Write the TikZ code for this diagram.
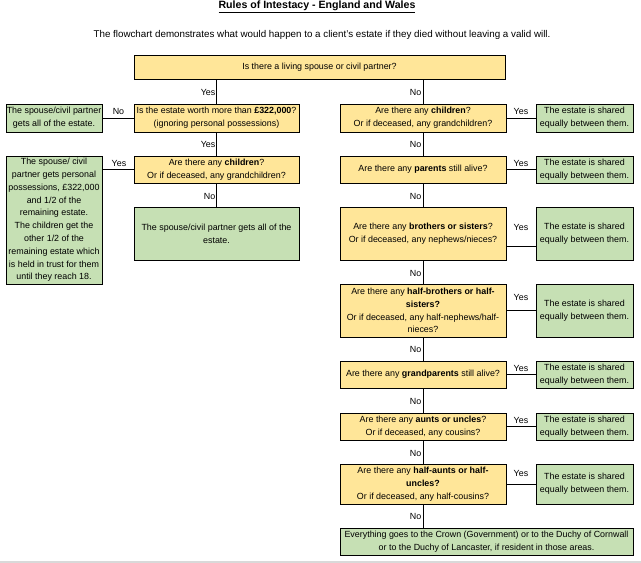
\documentclass[tikz,border=0pt]{standalone}
\usepackage{fontspec}
\setmainfont{Liberation Sans}
\definecolor{yel}{HTML}{FFE699}
\definecolor{grn}{HTML}{C6E0B4}
\definecolor{rulegray}{HTML}{D9D9D9}
\begin{document}
\begin{tikzpicture}[x=1pt,y=-1pt,
  every node/.style={font=\fontsize{8.9}{12.8}\selectfont},
  box/.style={draw=black, line width=0.8pt, inner sep=1pt, align=center},
  ybox/.style={box, fill=yel},
  gbox/.style={box, fill=grn},
  lbl/.style={inner sep=0.5pt},
  conn/.style={draw=black, line width=0.8pt}]
\useasboundingbox (0,0) rectangle (641,563);
\draw[rulegray, line width=1.2pt] (0,562) -- (641,562);

\node (title) at (317,7) {\fontsize{10.6}{12}\selectfont\bfseries\underline{Rules of Intestacy - England and Wales}};
\node (sub) at (322,35) {\fontsize{9.8}{12}\selectfont The flowchart demonstrates what would happen to a client's estate if they died without leaving a valid will.};

% left side
\node[ybox, minimum width=371pt, minimum height=24pt] (q0) at (319.5,67) {Is there a living spouse or civil partner?};
\node[ybox, minimum width=165pt, minimum height=28pt, inner sep=0pt] (estate) at (216.5,118) {Is the estate worth more than \textbf{£322,000}?\\(ignoring personal possessions)};
\node[gbox, minimum width=96pt, minimum height=28pt, inner sep=0pt] (spall1) at (54,118) {The spouse/civil partner\\gets all of the estate.};
\node[ybox, minimum width=165pt, minimum height=27pt] (child1) at (216.5,169.5) {Are there any \textbf{children}?\\Or if deceased, any grandchildren?};
\node[gbox, minimum width=96pt, minimum height=128pt, inner sep=0pt] (split) at (54,220) {The spouse/ civil\\partner gets personal\\possessions, £322,000\\and 1/2 of the\\remaining estate.\\The children get the\\other 1/2 of the\\remaining estate which\\is held in trust for them\\until they reach 18.};
\node[gbox, minimum width=165pt, minimum height=53pt] (spall2) at (216.5,233.5) {The spouse/civil partner gets all of the\\estate.};

% right column
\node[ybox, minimum width=166pt, minimum height=28pt] (rchild) at (423,118) {Are there any \textbf{children}?\\Or if deceased, any grandchildren?};
\node[gbox, minimum width=97pt, minimum height=28pt, inner sep=0pt] (g1) at (584.5,118) {The estate is shared\\equally between them.};
\node[ybox, minimum width=166pt, minimum height=27pt] (parents) at (423,169.5) {Are there any \textbf{parents} still alive?};
\node[gbox, minimum width=97pt, minimum height=27pt, inner sep=0pt] (g2) at (584.5,169.5) {The estate is shared\\equally between them.};
\node[ybox, minimum width=166pt, minimum height=53pt] (bros) at (423,233.5) {Are there any \textbf{brothers or sisters}?\\Or if deceased, any nephews/nieces?};
\node[gbox, minimum width=97pt, minimum height=53pt, inner sep=0pt] (g3) at (584.5,233.5) {The estate is shared\\equally between them.};
\node[ybox, minimum width=166pt, minimum height=53pt, inner sep=0pt] (halfbros) at (423,310.5) {Are there any \textbf{half-brothers or half-}\\\textbf{sisters?}\\Or if deceased, any half-nephews/half-\\nieces?};
\node[gbox, minimum width=97pt, minimum height=53pt, inner sep=0pt] (g4) at (584.5,310.5) {The estate is shared\\equally between them.};
\node[ybox, minimum width=166pt, minimum height=27pt] (gparents) at (423,374.5) {Are there any \textbf{grandparents} still alive?};
\node[gbox, minimum width=97pt, minimum height=27pt, inner sep=0pt] (g5) at (584.5,374.5) {The estate is shared\\equally between them.};
\node[ybox, minimum width=166pt, minimum height=27pt] (aunts) at (423,426.5) {Are there any \textbf{aunts or uncles}?\\Or if deceased, any cousins?};
\node[gbox, minimum width=97pt, minimum height=27pt, inner sep=0pt] (g6) at (584.5,426.5) {The estate is shared\\equally between them.};
\node[ybox, minimum width=166pt, minimum height=40pt, inner sep=0pt] (halfaunts) at (423,484) {Are there any \textbf{half-aunts or half-}\\\textbf{uncles?}\\Or if deceased, any half-cousins?};
\node[gbox, minimum width=97pt, minimum height=40pt, inner sep=0pt] (g7) at (584.5,484) {The estate is shared\\equally between them.};
\node[gbox, minimum width=293pt, minimum height=27pt, inner sep=0pt] (final) at (486.5,541.5) {Everything goes to the Crown (Government) or to the Duchy of Cornwall\\or to the Duchy of Lancaster, if resident in those areas.};

% connectors left
\draw[conn] (q0.south -| estate.north) -- (estate.north);
\draw[conn] (q0.south -| rchild.north) -- (rchild.north);
\draw[conn] (estate.west) -- (spall1.east);
\draw[conn] (estate.south) -- (child1.north);
\draw[conn] (child1.west) -- (child1.west -| split.east);
\draw[conn] (child1.south) -- (spall2.north);

% connectors right
\draw[conn] (rchild.south) -- (parents.north);
\draw[conn] (parents.south) -- (bros.north);
\draw[conn] (bros.south) -- (halfbros.north);
\draw[conn] (halfbros.south) -- (gparents.north);
\draw[conn] (gparents.south) -- (aunts.north);
\draw[conn] (aunts.south) -- (halfaunts.north);
\draw[conn] (halfaunts.south) -- (final.north -| halfaunts.south);
\draw[conn] (rchild.east) -- (g1.west);
\draw[conn] (parents.east) -- (g2.west);
\draw[conn] ([yshift=-12.5pt]bros.east) -- ([yshift=-12.5pt]g3.west);
\draw[conn] (halfbros.east) -- (g4.west);
\draw[conn] (gparents.east) -- (g5.west);
\draw[conn] (aunts.east) -- (g6.west);
\draw[conn] (halfaunts.east) -- (g7.west);

% labels
\node[lbl, anchor=east] (l1) at (216,92) {Yes};
\node[lbl, anchor=east] (l2) at (422,92) {No};
\node[lbl] (l3) at (118.5,111) {No};
\node[lbl, anchor=east] (l4) at (216,144) {Yes};
\node[lbl] (l5) at (119,163) {Yes};
\node[lbl, anchor=east] (l6) at (216,196) {No};
\node[lbl] (y1) at (521,111) {Yes};
\node[lbl] (y2) at (521,163) {Yes};
\node[lbl] (y3) at (521,227) {Yes};
\node[lbl] (y4) at (521,297) {Yes};
\node[lbl] (y5) at (521,368) {Yes};
\node[lbl] (y6) at (521,420) {Yes};
\node[lbl] (y7) at (521,473) {Yes};
\node[lbl, anchor=east] (n1) at (422,144) {No};
\node[lbl, anchor=east] (n2) at (422,196) {No};
\node[lbl, anchor=east] (n3) at (422,273) {No};
\node[lbl, anchor=east] (n4) at (422,349) {No};
\node[lbl, anchor=east] (n5) at (422,401) {No};
\node[lbl, anchor=east] (n6) at (422,453) {No};
\node[lbl, anchor=east] (n7) at (422,516) {No};
\end{tikzpicture}
\end{document}
